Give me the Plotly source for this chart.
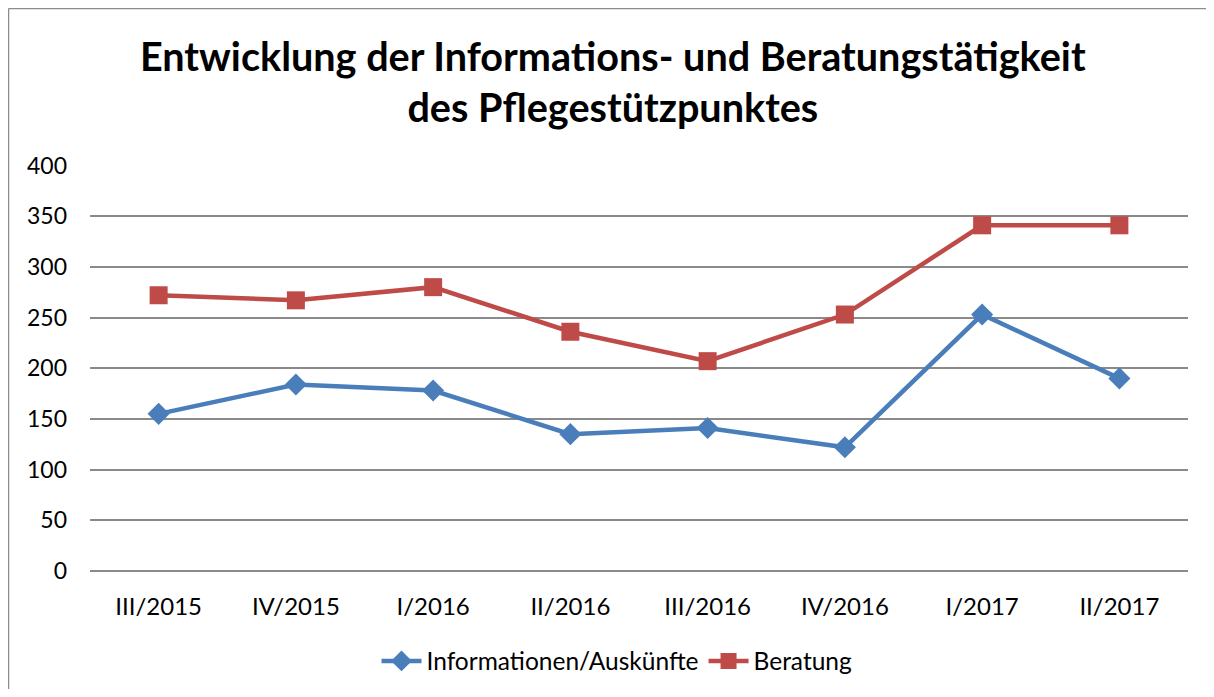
import plotly.graph_objects as go

categories = ["III/2015", "IV/2015", "I/2016", "II/2016", "III/2016", "IV/2016", "I/2017", "II/2017"]
informationen = [155, 184, 178, 135, 141, 122, 253, 190]
beratung = [272, 267, 280, 236, 207, 253, 341, 341]
y_ticks = [0, 50, 100, 150, 200, 250, 300, 350, 400]

OFF = 8  # page body margin
W, H = 1214 - 2 * OFF, 697 - 2 * OFF
# desired plot area in screen pixels
SX0, SX1, SY0, SY1 = 90, 1188, 165.5, 571
L = SX0 - OFF
R = W - (SX1 - OFF)
T = SY0 - OFF - 0.5
B = H - (SY1 - OFF)
pw = W - L - R
ph = H - T - B

def px_x(xs):
    return (xs - OFF - L) / pw

def px_y(ys):
    return (H - B - (ys - OFF)) / ph

fig = go.Figure()
fig.add_trace(go.Scatter(
    x=categories, y=informationen, name="Informationen/Auskünfte",
    mode="lines+markers",
    line=dict(color="#4A7EBB", width=4.5),
    marker=dict(symbol="diamond", size=17, color="#4A7EBB"),
))
fig.add_trace(go.Scatter(
    x=categories, y=beratung, name="Beratung",
    mode="lines+markers",
    line=dict(color="#BE4B48", width=4.5),
    marker=dict(symbol="square", size=18, color="#BE4B48"),
))

# outer chart frame (only top and left edges are visible in the crop)
frame = dict(color="#8C8C8C", width=1.5)
fig.add_shape(type="line", xref="paper", yref="paper",
              x0=px_x(8.5), x1=px_x(1214), y0=px_y(8.5), y1=px_y(8.5), line=frame, layer="below")
fig.add_shape(type="line", xref="paper", yref="paper",
              x0=px_x(8.5), x1=px_x(8.5), y0=px_y(8.5), y1=px_y(697), line=frame, layer="below")

fig.add_annotation(
    text="<b>Entwicklung der Informations- und Beratungstätigkeit<br>des Pflegestützpunktes</b>",
    xref="paper", yref="paper", x=px_x(613), y=px_y(81), xanchor="center", yanchor="middle",
    showarrow=False, align="center",
    font=dict(family="Lato", size=39.6, color="black"),
)

fig.update_layout(
    width=W, height=H,
    margin=dict(l=L, r=R, t=T, b=B, autoexpand=False),
    paper_bgcolor="white", plot_bgcolor="white",
    font=dict(family="Lato", color="black"),
    showlegend=True,
    legend=dict(orientation="h", x=px_x(617), xanchor="center", y=px_y(661), yanchor="middle",
                font=dict(family="Lato", size=24.5), itemwidth=40, bgcolor="rgba(0,0,0,0)"),
    xaxis=dict(type="category", categoryorder="array", categoryarray=categories,
               range=[-0.5, 7.5], showgrid=False, showline=False, zeroline=False,
               ticks="", tickfont=dict(family="Lato", size=24), ticklabelstandoff=19),
    yaxis=dict(range=[0, 400.5], tickvals=y_ticks, showgrid=True, gridcolor="#8A8A8A", gridwidth=1.5,
               zeroline=True, zerolinecolor="#8A8A8A", zerolinewidth=1.5, showline=False,
               ticks="", tickfont=dict(family="Lato", size=23), ticklabelstandoff=22),
)

fig.write_html("out.html", config={"displayModeBar": False})
